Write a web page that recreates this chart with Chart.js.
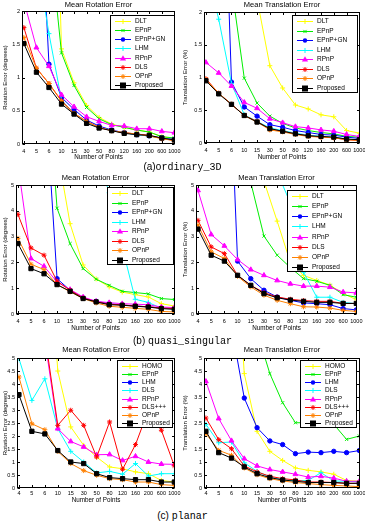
<!DOCTYPE html>
<html>
<head>
<meta charset="utf-8">
<script src="https://cdn.jsdelivr.net/npm/chart.js@4.4.1/dist/chart.umd.min.js"></script>
<style>
html, body { margin: 0; padding: 0; background: #fff; }
body { width: 365px; height: 523px; position: relative; overflow: hidden; font-family: "Liberation Sans", Arial, sans-serif; }
canvas { position: absolute; }
.cap { position: absolute; left: 0; width: 365px; text-align: center; font-size: 10px; line-height: 12px; color: #000; }
.cap span { font-family: "Liberation Mono", "DejaVu Sans Mono", monospace; }
</style>
</head>
<body>
<canvas id="c1"></canvas>
<canvas id="c2"></canvas>
<canvas id="c3"></canvas>
<canvas id="c4"></canvas>
<canvas id="c5"></canvas>
<canvas id="c6"></canvas>
<div class="cap" style="top:161px">(a)<span>ordinary_3D</span></div>
<div class="cap" style="top:335px">(b) <span>quasi_singular</span></div>
<div class="cap" style="top:510px">(c) <span>planar</span></div>
<script>
// x categories (number of points), drawn at equal spacing
const pointCounts = ['4', '5', '6', '10', '15', '30', '50', '80', '120', '160', '200', '600', '1000'];
const methods3D = ['DLT', 'EPnP', 'EPnP+GN', 'LHM', 'RPnP', 'DLS', 'OPnP', 'Proposed'];
const methodsPlanar = ['HOMO', 'EPnP', 'LHM', 'DLS', 'RPnP', 'DLS+++', 'OPnP', 'Proposed'];

// (a) ordinary_3D - rotation error (degrees), rows follow methods3D
const ordinaryRot = [
    [20, 12, 8, 1.43, 0.92, 0.58, 0.40, 0.30, 0.25, 0.21, 0.18, 0.11, 0.08],
    [8, 5, 3.2, 1.37, 0.88, 0.55, 0.38, 0.29, 0.25, 0.21, 0.18, 0.11, 0.09],
    [10, 5, 1.2, 0.70, 0.52, 0.36, 0.27, 0.21, 0.17, 0.14, 0.12, 0.09, 0.07],
    [4.0, 2.82, 1.66, 0.66, 0.46, 0.33, 0.25, 0.20, 0.17, 0.14, 0.12, 0.09, 0.06],
    [2.15, 1.45, 1.17, 0.74, 0.56, 0.41, 0.34, 0.28, 0.27, 0.23, 0.23, 0.19, 0.17],
    [1.75, 1.14, 0.91, 0.65, 0.46, 0.34, 0.25, 0.20, 0.17, 0.15, 0.13, 0.08, 0.055],
    [1.60, 1.14, 0.91, 0.64, 0.46, 0.34, 0.25, 0.20, 0.17, 0.15, 0.12, 0.08, 0.05],
    [1.51, 1.08, 0.85, 0.60, 0.45, 0.31, 0.24, 0.20, 0.16, 0.14, 0.13, 0.09, 0.06]
];
// (a) ordinary_3D - translation error (%)
const ordinaryTrans = [
    [20, 12, 8, 4, 2.2, 1.18, 0.84, 0.58, 0.52, 0.43, 0.40, 0.19, 0.15],
    [8, 5, 2.4, 0.99, 0.61, 0.41, 0.30, 0.23, 0.19, 0.16, 0.14, 0.10, 0.09],
    [10, 6.7, 0.93, 0.55, 0.41, 0.28, 0.24, 0.19, 0.16, 0.13, 0.12, 0.09, 0.07],
    [2.7, 1.89, 0.91, 0.43, 0.33, 0.23, 0.19, 0.15, 0.12, 0.10, 0.09, 0.06, 0.05],
    [1.23, 1.07, 0.87, 0.62, 0.53, 0.37, 0.31, 0.25, 0.23, 0.20, 0.18, 0.13, 0.10],
    [0.98, 0.76, 0.59, 0.42, 0.33, 0.21, 0.18, 0.14, 0.11, 0.09, 0.08, 0.05, 0.04],
    [0.97, 0.76, 0.59, 0.42, 0.32, 0.20, 0.17, 0.13, 0.10, 0.09, 0.08, 0.05, 0.04],
    [0.95, 0.75, 0.59, 0.42, 0.32, 0.22, 0.18, 0.14, 0.11, 0.10, 0.09, 0.06, 0.05]
];
// (b) quasi_singular - rotation error (degrees)
const quasiRot = [
    [40, 25, 15, 6.4, 3.5, 1.9, 1.36, 1.05, 0.85, 0.75, 0.66, 0.40, 0.31],
    [30, 20, 11, 4.1, 2.73, 1.76, 1.35, 1.11, 0.88, 0.83, 0.78, 0.60, 0.56],
    [40, 30, 9.3, 1.37, 0.92, 0.62, 0.49, 0.40, 0.35, 0.31, 0.28, 0.23, 0.21],
    [40, 30, 25, 20, 12, 9, 6.3, 4.7, 2.6, 0.57, 0.45, 0.22, 0.20],
    [5.8, 2.15, 1.85, 1.24, 0.95, 0.66, 0.49, 0.44, 0.40, 0.38, 0.36, 0.27, 0.25],
    [3.86, 2.56, 2.28, 1.27, 0.92, 0.62, 0.47, 0.38, 0.35, 0.31, 0.28, 0.23, 0.21],
    [2.93, 1.93, 1.72, 1.14, 0.86, 0.60, 0.43, 0.30, 0.26, 0.22, 0.18, 0.10, 0.08],
    [2.73, 1.76, 1.56, 1.14, 0.88, 0.60, 0.47, 0.36, 0.34, 0.30, 0.27, 0.21, 0.18]
];
// (b) quasi_singular - translation error (%)
const quasiTrans = [
    [40, 25, 15, 9, 7, 5.15, 3.6, 2.0, 1.5, 1.3, 1.12, 0.8, 0.55],
    [30, 20, 12, 8, 5.1, 3.02, 2.28, 1.8, 1.37, 1.27, 1.11, 0.75, 0.65],
    [40, 30, 14.7, 2.05, 1.37, 0.92, 0.66, 0.53, 0.43, 0.40, 0.36, 0.21, 0.16],
    [40, 30, 25, 20, 15, 10, 5.5, 4.3, 1.62, 0.65, 0.65, 0.45, 0.40],
    [4.79, 3.08, 2.64, 2.11, 1.72, 1.50, 1.30, 1.17, 1.08, 1.08, 1.04, 0.85, 0.82],
    [3.63, 2.60, 2.34, 1.50, 1.11, 0.83, 0.66, 0.57, 0.52, 0.49, 0.49, 0.41, 0.41],
    [3.45, 2.41, 2.15, 1.46, 1.05, 0.73, 0.53, 0.40, 0.28, 0.27, 0.23, 0.14, 0.10],
    [3.29, 2.28, 2.05, 1.50, 1.11, 0.79, 0.63, 0.54, 0.49, 0.45, 0.45, 0.41, 0.41]
];
// (c) planar - rotation error (degrees), rows follow methodsPlanar
const planarRot = [
    [30, 20, 12, 4.5, 2.35, 1.64, 1.19, 0.81, 0.74, 0.62, 0.55, 0.29, 0.23],
    [40, 30, 25, 20, 15, 12, 10, 9, 8, 8, 7, 6, 6],
    [35, 28, 22, 18, 14, 11, 9, 8, 7.5, 7, 6.5, 6, 5.8],
    [4.98, 3.37, 4.2, 2.28, 1.41, 1.0, 0.58, 0.64, 0.53, 0.94, 0.46, 0.55, 0.55],
    [12, 8, 5.7, 2.28, 1.79, 1.58, 1.28, 1.29, 1.06, 1.22, 1.0, 0.92, 0.91],
    [15, 10, 5.9, 2.41, 2.99, 2.41, 1.19, 2.54, 0.72, 1.67, 3.0, 2.22, 0.85],
    [4.27, 2.47, 2.24, 1.41, 0.94, 0.67, 0.49, 0.36, 0.32, 0.23, 0.23, 0.13, 0.10],
    [3.59, 2.18, 2.08, 1.44, 1.00, 0.94, 0.55, 0.40, 0.36, 0.32, 0.32, 0.23, 0.23]
];
// (c) planar - translation error (%)
const planarTrans = [
    [30, 20, 12, 4.4, 2.18, 1.41, 1.06, 0.77, 0.68, 0.62, 0.53, 0.29, 0.26],
    [30, 20, 12, 8, 6, 4.4, 3.28, 2.51, 2.51, 2.5, 2.45, 1.87, 2.0],
    [30, 20, 6.2, 3.46, 2.32, 1.81, 1.67, 1.32, 1.38, 1.36, 1.41, 1.36, 1.44],
    [2.45, 1.74, 1.77, 0.97, 0.64, 0.42, 0.32, 0.28, 0.29, 0.59, 0.27, 0.26, 0.23],
    [4.10, 2.67, 1.82, 1.13, 0.85, 0.71, 0.62, 0.53, 0.42, 0.45, 0.38, 0.26, 0.26],
    [2.69, 1.86, 1.51, 0.85, 0.62, 0.45, 0.36, 0.31, 0.23, 0.23, 0.21, 0.18, 0.18],
    [2.09, 1.45, 1.26, 0.77, 0.51, 0.36, 0.27, 0.21, 0.17, 0.13, 0.10, 0.08, 0.05],
    [2.18, 1.36, 1.15, 0.81, 0.55, 0.40, 0.31, 0.26, 0.21, 0.21, 0.21, 0.18, 0.18]
];

// same look by legend position in every panel
const lineColors = ['#ffff00', '#00ee00', '#0000ff', '#00ffff', '#ff00ff', '#ff0000', '#ff8000', '#000000'];
const markers = ['cross', 'crossRot', 'circle', 'cross', 'triangle', 'star', 'star', 'rect'];
const markerSize = [2.5, 2.2, 2.2, 2.5, 2.8, 2.5, 2.5, 3];

const FONT = '"Liberation Sans", Arial, sans-serif';
Chart.defaults.font.family = FONT;
Chart.defaults.color = '#000';

// page coordinates: box = canvas [x, y, w, h], area = plot [l, t, r, b], legend = [x0, y0, x1, y1]
const panels = [
    { id: 'c1', box: [0, 0, 190, 163], area: [22, 11, 175, 144], titleY: 5, ymax: 2, step: 0.5,
      title: 'Mean Rotation Error', ytitle: 'Rotation Error (degrees)', names: methods3D, rows: ordinaryRot,
      legend: [110, 15, 175, 90], tickPad: 3.7 },
    { id: 'c2', box: [180, 0, 190, 163], area: [204, 12, 360, 143], titleY: 5, ymax: 2, step: 0.5,
      title: 'Mean Translation Error', ytitle: 'Translation Error (%)', names: methods3D, rows: ordinaryTrans,
      legend: [292, 15, 358, 93], tickPad: 4.2 },
    { id: 'c3', box: [0, 172, 190, 162], area: [16, 185, 175, 314], titleY: 178, ymax: 5, step: 1,
      title: 'Mean Rotation Error', ytitle: 'Rotation Error (degrees)', names: methods3D, rows: quasiRot,
      legend: [107, 187, 174, 265], tickPad: 3.7 },
    { id: 'c4', box: [180, 172, 190, 162], area: [196, 185, 357, 314], titleY: 178, ymax: 5, step: 1,
      title: 'Mean Translation Error', ytitle: 'Translation Error (%)', names: methods3D, rows: quasiTrans,
      legend: [287, 190, 357, 272], tickPad: 3.7 },
    { id: 'c5', box: [0, 345, 190, 161], area: [17, 358, 175, 488], titleY: 350, ymax: 5, step: 0.5,
      title: 'Mean Rotation Error', ytitle: 'Rotation Error (degrees)', names: methodsPlanar, rows: planarRot,
      legend: [117, 360, 173, 428], tickPad: 2.3 },
    { id: 'c6', box: [180, 345, 190, 161], area: [204, 358, 360, 488], titleY: 350, ymax: 5, step: 0.5,
      title: 'Mean Translation Error', ytitle: 'Translation Error (%)', names: methodsPlanar, rows: planarTrans,
      legend: [300, 360, 357, 428], tickPad: 2.3 }
];

function drawMarker(ctx, style, x, y, r, color) {
    ctx.save();
    ctx.fillStyle = color;
    ctx.strokeStyle = color;
    ctx.lineWidth = 1;
    ctx.beginPath();
    if (style === 'rect') {
        ctx.fillRect(x - r, y - r, 2 * r, 2 * r);
    } else if (style === 'circle') {
        ctx.arc(x, y, r, 0, Math.PI * 2);
        ctx.fill();
    } else if (style === 'triangle') {
        ctx.moveTo(x, y - r * 1.2);
        ctx.lineTo(x + r * 1.1, y + r * 0.7);
        ctx.lineTo(x - r * 1.1, y + r * 0.7);
        ctx.closePath();
        ctx.fill();
    } else {
        if (style === 'cross' || style === 'star') {
            ctx.moveTo(x - r, y); ctx.lineTo(x + r, y);
            ctx.moveTo(x, y - r); ctx.lineTo(x, y + r);
        }
        if (style === 'crossRot' || style === 'star') {
            const d = r * 0.72;
            ctx.moveTo(x - d, y - d); ctx.lineTo(x + d, y + d);
            ctx.moveTo(x - d, y + d); ctx.lineTo(x + d, y - d);
        }
        ctx.stroke();
    }
    ctx.restore();
}

// matlab-like box, inward ticks, title and legend
const framePlugin = {
    id: 'frame',
    afterDatasetsDraw(chart, args, o) {
        const { ctx, chartArea: a } = chart;
        const xs = chart.scales.x, ys = chart.scales.y;
        ctx.save();
        ctx.strokeStyle = '#000';
        ctx.lineWidth = 1;
        const L = Math.round(a.left) + 0.5, R = Math.round(a.right) - 0.5;
        const T = Math.round(a.top) + 0.5, B = Math.round(a.bottom) - 0.5;
        ctx.strokeRect(L, T, R - L, B - T);
        ctx.beginPath();
        xs.ticks.forEach(t => {
            const px = Math.round(xs.getPixelForValue(t.value)) + 0.5;
            ctx.moveTo(px, B); ctx.lineTo(px, B - 2.5);
            ctx.moveTo(px, T); ctx.lineTo(px, T + 2.5);
        });
        ys.ticks.forEach(t => {
            const py = Math.round(ys.getPixelForValue(t.value)) + 0.5;
            ctx.moveTo(L, py); ctx.lineTo(L + 2.5, py);
            ctx.moveTo(R, py); ctx.lineTo(R - 2.5, py);
        });
        ctx.stroke();

        ctx.fillStyle = '#000';
        ctx.font = '7.5px ' + FONT;
        ctx.textAlign = 'center';
        ctx.textBaseline = 'middle';
        ctx.fillText(o.title, (a.left + a.right) / 2, o.titleY);

        const [x0, y0, x1, y1] = o.legend;
        ctx.fillStyle = '#fff';
        ctx.fillRect(x0, y0, x1 - x0, y1 - y0);
        ctx.strokeStyle = '#000';
        ctx.strokeRect(Math.round(x0) + 0.5, Math.round(y0) + 0.5, Math.round(x1 - x0) - 1, Math.round(y1 - y0) - 1);
        const n = chart.data.datasets.length;
        chart.data.datasets.forEach((ds, i) => {
            const cy = Math.round(y0 + 6 + i * (y1 - y0 - 11) / (n - 1)) + 0.5;
            ctx.strokeStyle = ds.borderColor;
            ctx.lineWidth = 1;
            ctx.beginPath();
            ctx.moveTo(x0 + 5, cy);
            ctx.lineTo(x0 + 21, cy);
            ctx.stroke();
            drawMarker(ctx, ds.pointStyle, x0 + 13, cy, ds.pointRadius, ds.borderColor);
            ctx.fillStyle = '#000';
            ctx.textAlign = 'left';
            ctx.textBaseline = 'middle';
            ctx.font = '6.5px ' + FONT;
            ctx.fillText(ds.label, x0 + 25, cy);
        });
        ctx.restore();
    }
};

function buildChart(p) {
    const [bx, by, bw, bh] = p.box;
    const [al, at, ar, ab] = p.area;
    const cv = document.getElementById(p.id);
    cv.width = bw;
    cv.height = bh;
    cv.style.left = bx + 'px';
    cv.style.top = by + 'px';

    const datasets = p.names.map((name, i) => ({
        label: name,
        data: p.rows[i].map((v, j) => ({ x: j + 1, y: v })),
        borderColor: lineColors[i],
        backgroundColor: lineColors[i],
        pointBackgroundColor: lineColors[i],
        pointBorderColor: lineColors[i],
        borderWidth: 1,
        pointStyle: markers[i],
        pointRadius: markerSize[i],
        pointBorderWidth: 1,
        tension: 0,
        order: p.names.length - i
    }));

    new Chart(cv, {
        type: 'line',
        data: { datasets },
        options: {
            responsive: false,
            animation: false,
            events: [],
            layout: { padding: { left: 0, top: at - by, right: bx + bw - ar, bottom: 0 } },
            plugins: {
                legend: { display: false },
                tooltip: { enabled: false },
                frame: {
                    title: p.title,
                    titleY: p.titleY - by,
                    legend: [p.legend[0] - bx, p.legend[1] - by, p.legend[2] - bx, p.legend[3] - by]
                }
            },
            scales: {
                x: {
                    type: 'linear',
                    min: 0.85,
                    max: 13.05,
                    grid: { display: false, drawTicks: false },
                    border: { display: false },
                    afterBuildTicks: s => { s.ticks = pointCounts.map((c, i) => ({ value: i + 1 })); },
                    afterFit: s => { s.height = by + bh - ab; },
                    ticks: {
                        autoSkip: false, maxRotation: 0, minRotation: 0,
                        padding: p.tickPad,
                        font: { size: 5.5 },
                        color: '#000',
                        callback: v => pointCounts[Math.round(v) - 1]
                    },
                    title: { display: true, text: 'Number of Points', font: { size: 6.3 }, color: '#000',
                             padding: { top: 0, bottom: 2.2 } }
                },
                y: {
                    min: 0,
                    max: p.ymax,
                    grid: { display: false, drawTicks: false },
                    border: { display: false },
                    afterFit: s => { s.width = al - bx; },
                    ticks: {
                        stepSize: p.step,
                        padding: 2,
                        font: { size: 5.5 },
                        color: '#000',
                        callback: v => String(+v.toFixed(2))
                    },
                    title: { display: true, text: p.ytitle, font: { size: 6 }, color: '#000',
                             padding: { top: 1.9, bottom: 0 } }
                }
            }
        },
        plugins: [framePlugin]
    });
}

panels.forEach(buildChart);
</script>
</body>
</html>
